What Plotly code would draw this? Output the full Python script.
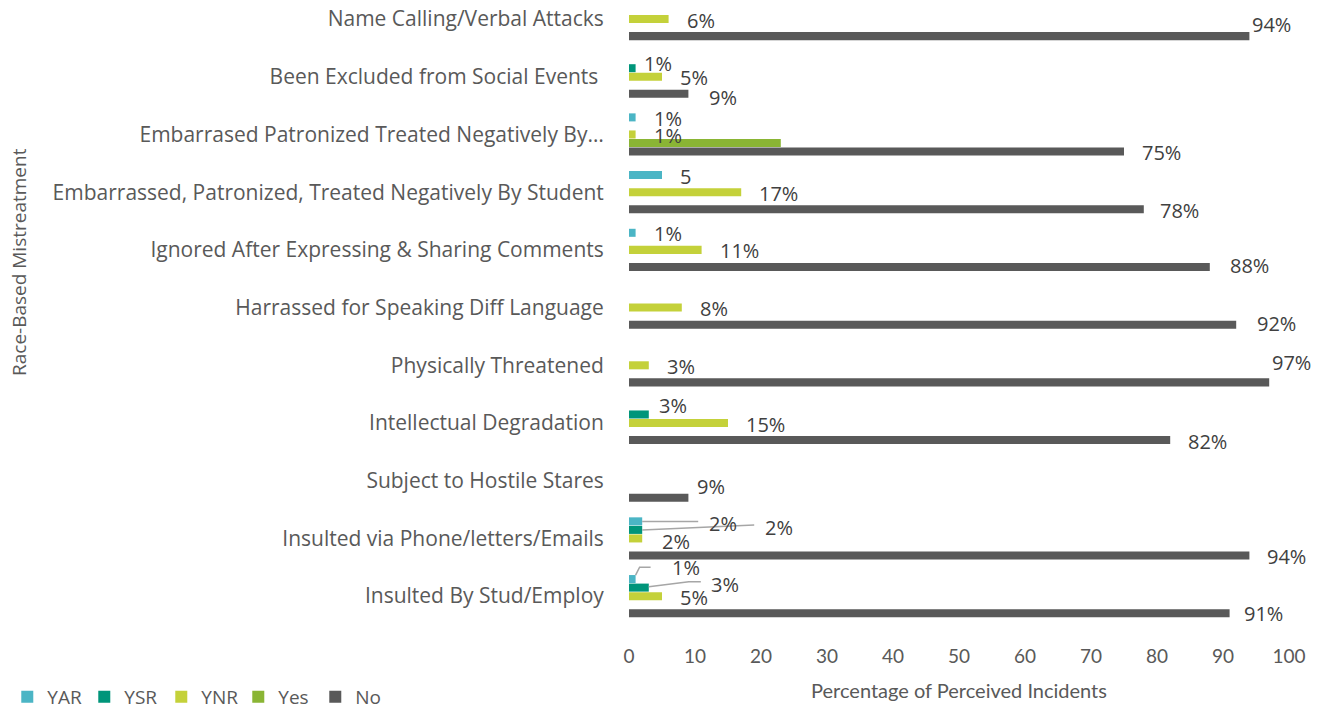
import plotly.graph_objects as go

# Race-based mistreatment categories, listed top to bottom
categories = [
    "Name Calling/Verbal Attacks",
    "Been Excluded from Social Events ",
    "Embarrased Patronized Treated Negatively By…",
    "Embarrassed, Patronized, Treated Negatively By Student",
    "Ignored After Expressing & Sharing Comments",
    "Harrassed for Speaking Diff Language",
    "Physically Threatened",
    "Intellectual Degradation",
    "Subject to Hostile Stares",
    "Insulted via Phone/letters/Emails",
    "Insulted By Stud/Employ",
]

# Percentage of perceived incidents per response group (None = no bar)
yar = [None, None, 1, 5, 1, None, None, None, None, 2, 1]
ysr = [None, 1, None, None, None, None, None, 3, None, 2, 3]
ynr = [6, 5, 1, 17, 11, 8, 3, 15, None, 2, 5]
yes = [None, None, 23, None, None, None, None, None, None, None, None]
no = [94, 9, 75, 78, 88, 92, 97, 82, 9, 94, 91]

# Data label text (one label series lacks the percent sign)
yar_text = [None, None, "1%", "5", "1%", None, None, None, None, "2%", "1%"]
ysr_text = [None, "1%", None, None, None, None, None, "3%", None, "2%", "3%"]
ynr_text = ["6%", "5%", "1%", "17%", "11%", "8%", "3%", "15%", None, "2%", "5%"]
yes_text = [None] * 11
no_text = ["94%", "9%", "75%", "78%", "88%", "92%", "97%", "82%", "9%", "94%", "91%"]

series_names = ["YAR", "YSR", "YNR", "Yes", "No"]
series_values = [yar, ysr, ynr, yes, no]
series_text = [yar_text, ysr_text, ynr_text, yes_text, no_text]
colors = ["#4BB5C5", "#00957A", "#C4D13A", "#8AB534", "#595959"]

# vertical pixel offset of each series' bar centre within its category group
slot_px = [17, 8.5, 0, -8.5, -17]

# label placement tweaks: (series, category) -> (dx from bar end, dy downwards), px
label_shift = {
    (4, 0): (1, -12),
    (1, 1): (6, -5),
    (4, 1): (19, 4),
    (4, 6): (1, -20),
    (1, 7): (8, -9),
    (4, 8): (7, -11),
    (2, 9): (18, 3),
    (4, 10): (12, 0),
    (4, 3): (14, 1),
    (4, 4): (18, -1),
    (4, 5): (19, -1),
    (4, 9): (16, 1),
    (0, 9): (65, 2),
    (1, 9): (121, -2.5),
    (0, 10): (34, -12),
    (1, 10): (60, -3.5),
}
# leader lines from bar end to moved labels: pixel points relative to the bar end (y up)
leader_points = {
    (0, 9): [(0, 0), (56, 0)],
    (1, 9): [(0, 0), (112, 5)],
    (0, 10): [(0, 4), (4, 12), (15, 12)],
    (1, 10): [(0, 1), (40, 6), (52, 6)],
}

label_font = dict(family="Open Sans", size=20, color="#404040")

fig = go.Figure()
for name, vals, col in zip(series_names, series_values, colors):
    fig.add_trace(go.Bar(
        name=name, y=categories, x=vals, orientation="h",
        marker=dict(color=col, line=dict(width=0)),
    ))

annotations = []
shapes = []
for s, (vals, texts) in enumerate(zip(series_values, series_text)):
    for i, (v, t) in enumerate(zip(vals, texts)):
        if v is None or t is None:
            continue
        dx, dy = label_shift.get((s, i), (16, 1))
        annotations.append(dict(
            x=v, y=categories[i], xanchor="left", yanchor="middle",
            xshift=dx, yshift=slot_px[s] - dy, text=t, showarrow=False,
            font=label_font,
        ))
        if (s, i) in leader_points:
            pts = leader_points[(s, i)]
            path = "M" + " L".join(f"{px} {py + slot_px[s]}" for px, py in pts)
            shapes.append(dict(
                type="path", xref="x", yref="y",
                xsizemode="pixel", ysizemode="pixel",
                xanchor=v, yanchor=i, path=path,
                line=dict(color="#A6A6A6", width=1.5),
            ))

annotations.append(dict(
    text="Race-Based Mistreatment", xref="paper", yref="paper",
    x=-0.925, y=0.58, textangle=-90, showarrow=False,
    xanchor="center", yanchor="middle",
    font=dict(family="Open Sans", size=19, color="#595959"),
))

fig.update_layout(
    width=1322, height=711,
    margin=dict(l=629, r=33, t=0, b=86, autoexpand=False),
    paper_bgcolor="white", plot_bgcolor="white",
    barmode="group", bargap=0.26, bargroupgap=0.06,
    font=dict(family="Open Sans", color="#595959"),
    showlegend=True,
    legend=dict(
        orientation="h", x=-0.942, y=-0.1456, xanchor="left", yanchor="bottom",
        font=dict(family="Open Sans", size=19, color="#595959"),
        itemwidth=30, tracegroupgap=0, entrywidth=32,
    ),
    annotations=annotations,
    shapes=shapes,
)
fig.update_xaxes(
    range=[0, 100], dtick=10, showgrid=False, zeroline=False, showline=False,
    automargin=False,
    ticks="outside", ticklen=14, tickcolor="rgba(0,0,0,0)",
    tickfont=dict(family="Lato", size=19, color="#595959"),
    title=dict(text="Percentage of Perceived Incidents",
               font=dict(family="Lato", size=20, color="#595959"), standoff=18),
)
fig.update_yaxes(
    range=[10.5, -0.33], showgrid=False, zeroline=False, showline=False,
    automargin=False,
    ticks="outside", ticklen=20, tickcolor="rgba(0,0,0,0)",
    tickfont=dict(family="Open Sans", size=21, color="#595959"),
)

fig.write_html("out.html")
